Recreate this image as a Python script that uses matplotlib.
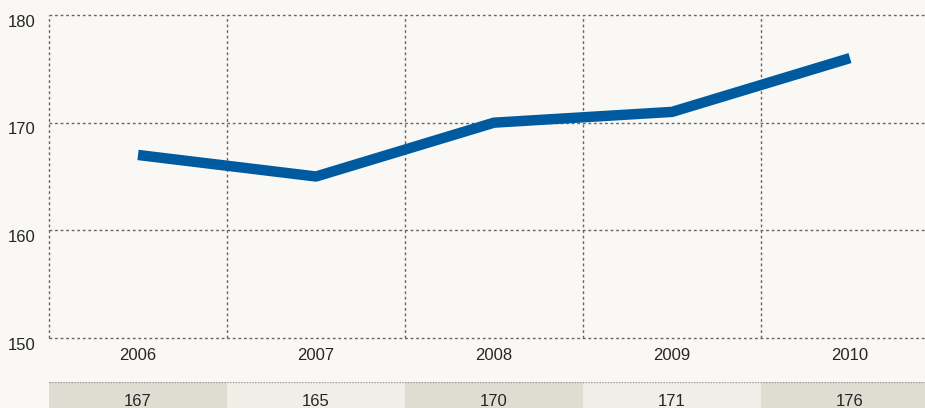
import matplotlib
matplotlib.use("Agg")
import matplotlib.pyplot as plt
import matplotlib.transforms as mtrans

# data
years = ["2006", "2007", "2008", "2009", "2010"]
values = [167, 165, 170, 171, 176]
yticks = [150, 160, 170, 180]

bg = "#f9f8f4"
line_col = "#005a9f"
grid_col = "#666666"
cell_cols = ["#ddddd2", "#efefe7"]
txt_col = "#262626"
fs = 12

plt.rcParams['font.family'] = ['Liberation Sans Narrow', 'Liberation Sans', 'DejaVu Sans']

fig = plt.figure(figsize=(9.25, 4.08), dpi=100, facecolor=bg)
W, H = 925, 408

# main chart
ax = fig.add_axes([49 / W, 1 - 338 / H, 1 - 49 / W, (338 - 15) / H])
ax.set_facecolor(bg)
x = list(range(len(years)))
ax.plot(x, values, color=line_col, lw=7.5, solid_capstyle="butt", zorder=3)

ax.set_ylim(150, 180)
ax.set_xlim(-0.5, (925 - 49) / 178 - 0.5)
ax.set_yticks(yticks)
ax.set_yticklabels([str(t) for t in yticks], fontsize=fs, color=txt_col)
ax.tick_params(axis="y", length=0, pad=10)
ax.set_xticks(x)
ax.set_xticklabels(years, fontsize=fs, color=txt_col)
ax.tick_params(axis="x", length=0, pad=7.5)

# grid lines
for t in yticks:
    ax.axhline(t, color=grid_col, lw=1, ls=(0, (2, 2)), zorder=1, clip_on=False)
for i in range(len(years)):
    ax.axvline(i - 0.5, color=grid_col, lw=1, ls=(0, (2, 2)), zorder=1, clip_on=False)
for s in ax.spines.values():
    s.set_visible(False)

# y labels sit a little below their grid lines
off = mtrans.ScaledTranslation(0, -4 / 72, fig.dpi_scale_trans)
for lab in ax.get_yticklabels():
    lab.set_transform(lab.get_transform() + off)

# value table row
tab = fig.add_axes([49 / W, -10 / H, 1 - 49 / W, 36 / H])
tab.set_xlim(ax.get_xlim())
tab.set_ylim(0, 1)
tab.bar(x, [1] * len(x), width=1.0, bottom=0,
        color=[cell_cols[i % 2] for i in x], zorder=1)
tab.axhline(1, color="#9a9a9a", lw=1, ls=(0, (1, 1)), zorder=2)
for i, v in zip(x, values):
    tab.text(i, 0.45, str(v), ha="center", va="center", fontsize=fs, color=txt_col)
tab.axis("off")

fig.savefig("out.png", dpi=100, facecolor=bg)
